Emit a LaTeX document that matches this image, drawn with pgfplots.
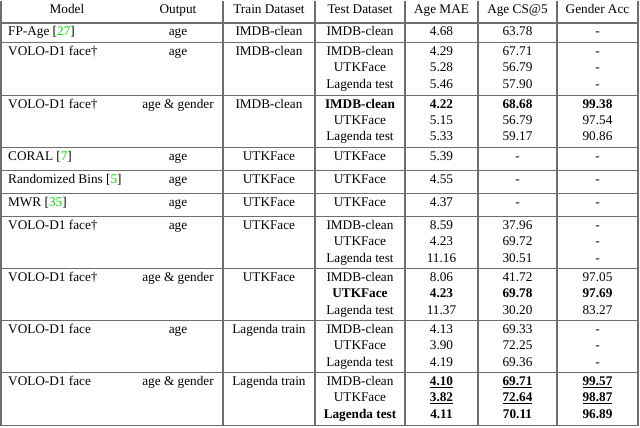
\documentclass[border=0pt]{standalone}
\usepackage{pgfplots}
\pgfplotsset{compat=1.18}
\usepackage{fontspec}
\setmainfont{Liberation Serif}
\definecolor{rule}{RGB}{110,110,110}
\definecolor{citeg}{RGB}{0,220,0}
\newcommand{\mycit}[1]{[\textcolor{citeg}{#1}]}
\newcommand{\TC}[3]{\node[anchor=base,inner sep=0pt] at (axis cs:#1,#2) {#3};}
\newcommand{\TL}[3]{\node[anchor=base west,inner sep=0pt] at (axis cs:#1,#2) {#3};}
\newcommand{\TB}[1]{\textbf{#1}}
\newcommand{\TU}[1]{\underline{\textbf{#1}}}
\pgfplotsset{tabrule/.style={draw=rule,solid,line width=1.1bp,mark=none,forget plot}}
\begin{document}
\fontsize{13.3}{16}\selectfont
\begin{tikzpicture}
\begin{axis}[width=640bp,height=427bp,scale only axis,
  xmin=0,xmax=640,ymin=0,ymax=427,y dir=reverse,hide axis,clip=false]
\path (axis cs:0,0) rectangle (axis cs:640,427);
% horizontal rules
\foreach \yy in {22.5,42,94.7,147,170,193,216,268,320,372,425}{
  \edef\tmp{\noexpand\addplot[tabrule] coordinates {(1,\yy) (638,\yy)};}\tmp
}
% vertical rules
\foreach \xx in {1,223,315,405,478,557,638}{
  \edef\tmp{\noexpand\addplot[tabrule] coordinates {(\xx,0) (\xx,425.5)};}\tmp
}
% header
\TC{67}{12.5}{Model}
\TC{178}{12.5}{Output}
\TC{269}{12.5}{Train Dataset}
\TC{360}{12.5}{Test Dataset}
\TC{441.5}{12.5}{Age MAE}
\TC{517.5}{12.5}{Age CS@5}
\TC{597.5}{12.5}{Gender Acc}
% FP-Age
\TL{8}{35}{FP-Age \mycit{27}}
\TC{178}{35}{age}
\TC{269}{35}{IMDB-clean}
\TC{360}{35}{IMDB-clean}
\TC{441.5}{35}{4.68}
\TC{517.5}{35}{63.78}
\TC{597.5}{35}{-}
% group A
\TL{8}{55.3}{VOLO-D1 face†}
\TC{178}{55.3}{age}
\TC{269}{55.3}{IMDB-clean}
\TC{360}{55.3}{IMDB-clean}
\TC{360}{71.3}{UTKFace}
\TC{360}{87.5}{Lagenda test}
\TC{441.5}{55.3}{4.29}
\TC{441.5}{71.3}{5.28}
\TC{441.5}{87.5}{5.46}
\TC{517.5}{55.3}{67.71}
\TC{517.5}{71.3}{56.79}
\TC{517.5}{87.5}{57.90}
\TC{597.5}{55.3}{-}
\TC{597.5}{71.3}{-}
\TC{597.5}{87.5}{-}
% group B
\TL{8}{108}{VOLO-D1 face†}
\TC{178}{108}{age \& gender}
\TC{269}{108}{IMDB-clean}
\TC{360}{108}{\TB{IMDB-clean}}
\TC{360}{124}{UTKFace}
\TC{360}{140.2}{Lagenda test}
\TC{441.5}{108}{\TB{4.22}}
\TC{441.5}{124}{5.15}
\TC{441.5}{140.2}{5.33}
\TC{517.5}{108}{\TB{68.68}}
\TC{517.5}{124}{56.79}
\TC{517.5}{140.2}{59.17}
\TC{597.5}{108}{\TB{99.38}}
\TC{597.5}{124}{97.54}
\TC{597.5}{140.2}{90.86}
% CORAL
\TL{8}{160.3}{CORAL \mycit{7}}
\TC{178}{160.3}{age}
\TC{269}{160.3}{UTKFace}
\TC{360}{160.3}{UTKFace}
\TC{441.5}{160.3}{5.39}
\TC{517.5}{160.3}{-}
\TC{597.5}{160.3}{-}
% Randomized Bins
\TL{8}{183.3}{Randomized Bins \mycit{5}}
\TC{178}{183.3}{age}
\TC{269}{183.3}{UTKFace}
\TC{360}{183.3}{UTKFace}
\TC{441.5}{183.3}{4.55}
\TC{517.5}{183.3}{-}
\TC{597.5}{183.3}{-}
% MWR
\TL{8}{206.3}{MWR \mycit{35}}
\TC{178}{206.3}{age}
\TC{269}{206.3}{UTKFace}
\TC{360}{206.3}{UTKFace}
\TC{441.5}{206.3}{4.37}
\TC{517.5}{206.3}{-}
\TC{597.5}{206.3}{-}
% group C
\TL{8}{229.3}{VOLO-D1 face†}
\TC{178}{229.3}{age}
\TC{269}{229.3}{UTKFace}
\TC{360}{229.3}{IMDB-clean}
\TC{360}{245.3}{UTKFace}
\TC{360}{261.5}{Lagenda test}
\TC{441.5}{229.3}{8.59}
\TC{441.5}{245.3}{4.23}
\TC{441.5}{261.5}{11.16}
\TC{517.5}{229.3}{37.96}
\TC{517.5}{245.3}{69.72}
\TC{517.5}{261.5}{30.51}
\TC{597.5}{229.3}{-}
\TC{597.5}{245.3}{-}
\TC{597.5}{261.5}{-}
% group D
\TL{8}{281.3}{VOLO-D1 face†}
\TC{178}{281.3}{age \& gender}
\TC{269}{281.3}{UTKFace}
\TC{360}{281.3}{IMDB-clean}
\TC{360}{297.3}{\TB{UTKFace}}
\TC{360}{313.5}{Lagenda test}
\TC{441.5}{281.3}{8.06}
\TC{441.5}{297.3}{\TB{4.23}}
\TC{441.5}{313.5}{11.37}
\TC{517.5}{281.3}{41.72}
\TC{517.5}{297.3}{\TB{69.78}}
\TC{517.5}{313.5}{30.20}
\TC{597.5}{281.3}{97.05}
\TC{597.5}{297.3}{\TB{97.69}}
\TC{597.5}{313.5}{83.27}
% group E
\TL{8}{333.3}{VOLO-D1 face}
\TC{178}{333.3}{age}
\TC{269}{333.3}{Lagenda train}
\TC{360}{333.3}{IMDB-clean}
\TC{360}{349.3}{UTKFace}
\TC{360}{365.5}{Lagenda test}
\TC{441.5}{333.3}{4.13}
\TC{441.5}{349.3}{3.90}
\TC{441.5}{365.5}{4.19}
\TC{517.5}{333.3}{69.33}
\TC{517.5}{349.3}{72.25}
\TC{517.5}{365.5}{69.36}
\TC{597.5}{333.3}{-}
\TC{597.5}{349.3}{-}
\TC{597.5}{365.5}{-}
% group F
\TL{8}{385.3}{VOLO-D1 face}
\TC{178}{385.3}{age \& gender}
\TC{269}{385.3}{Lagenda train}
\TC{360}{385.3}{IMDB-clean}
\TC{360}{401.3}{UTKFace}
\TC{360}{417.5}{\TB{Lagenda test}}
\TC{441.5}{385.3}{\TU{4.10}}
\TC{441.5}{401.3}{\TU{3.82}}
\TC{441.5}{417.5}{\TB{4.11}}
\TC{517.5}{385.3}{\TU{69.71}}
\TC{517.5}{401.3}{\TU{72.64}}
\TC{517.5}{417.5}{\TB{70.11}}
\TC{597.5}{385.3}{\TU{99.57}}
\TC{597.5}{401.3}{\TU{98.87}}
\TC{597.5}{417.5}{\TB{96.89}}
\end{axis}
\end{tikzpicture}
\end{document}
